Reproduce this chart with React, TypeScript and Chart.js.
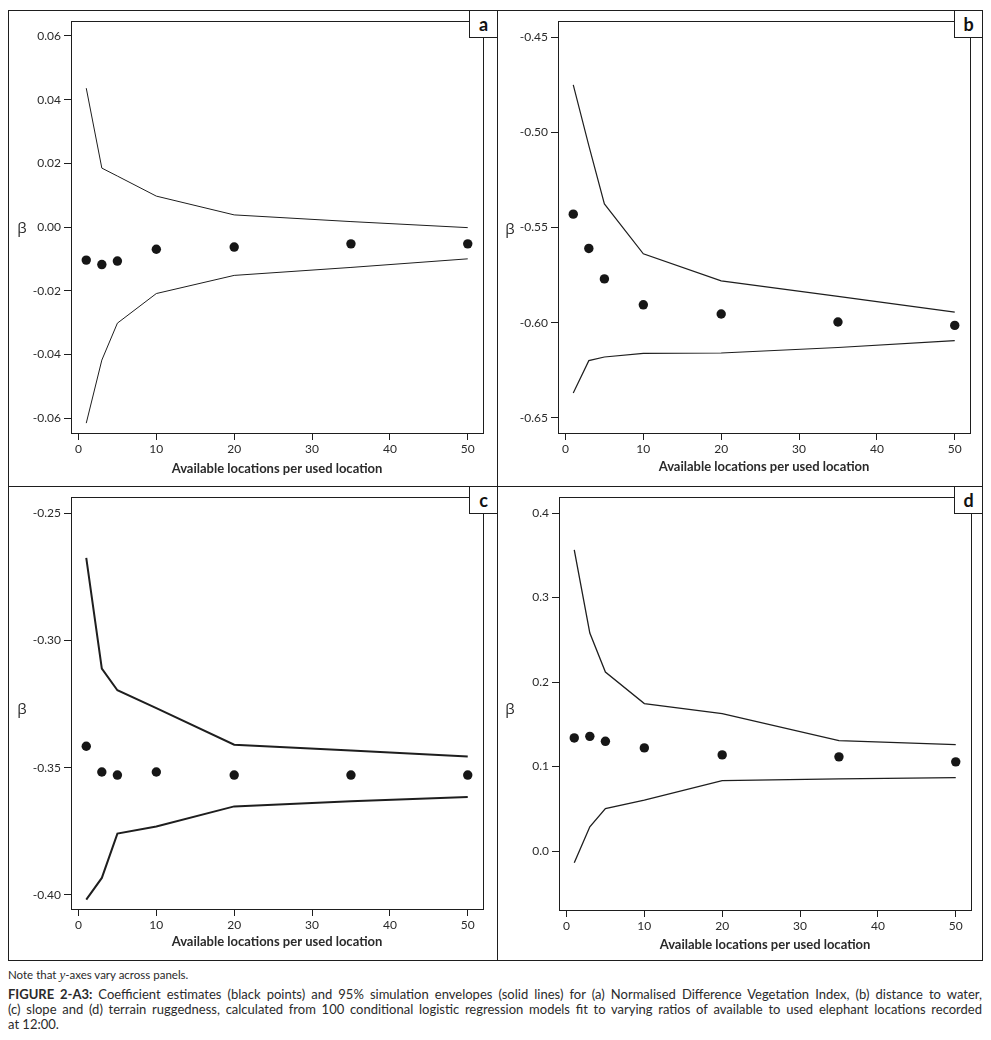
import React, { useEffect, useRef } from "react";
import { Chart, registerables } from "chart.js";
Chart.register(...registerables);

// ---- data ----
const ratios = [1, 3, 5, 10, 20, 35, 50];
const xTicks = [0, 10, 20, 30, 40, 50];

const estA = [-0.0104, -0.0118, -0.0107, -0.007, -0.0063, -0.0053, -0.0053];
const upperA = [0.0436, 0.0185, 0.016, 0.0097, 0.0038, 0.0017, -0.0002];
const lowerA = [-0.0616, -0.0418, -0.0302, -0.0209, -0.0152, -0.0127, -0.01];
const yTicksA = [-0.06, -0.04, -0.02, 0.0, 0.02, 0.04, 0.06];

const estB = [-0.543, -0.561, -0.577, -0.5906, -0.5954, -0.5996, -0.6014];
const upperB = [-0.4751, -0.507, -0.5376, -0.5638, -0.578, -0.5862, -0.5944];
const lowerB = [-0.6369, -0.6199, -0.618, -0.6161, -0.6159, -0.613, -0.6094];
const yTicksB = [-0.65, -0.6, -0.55, -0.5, -0.45];

const estC = [-0.3416, -0.3517, -0.3529, -0.3517, -0.3529, -0.3529, -0.3529];
const upperC = [-0.2676, -0.3111, -0.3196, -0.3266, -0.341, -0.3433, -0.3456];
const lowerC = [-0.4018, -0.3933, -0.3759, -0.3731, -0.3652, -0.3632, -0.3615];
const yTicksC = [-0.4, -0.35, -0.3, -0.25];

const estD = [0.1339, 0.1358, 0.1299, 0.1221, 0.1138, 0.1115, 0.1056];
const upperD = [0.3565, 0.258, 0.2119, 0.1745, 0.1626, 0.1307, 0.126];
const lowerD = [-0.0139, 0.0287, 0.0504, 0.0602, 0.0835, 0.0855, 0.087];
const yTicksD = [0.0, 0.1, 0.2, 0.3, 0.4];

const xTitle = "Available locations per used location";
const yLabel = "β";
const noteText = ["Note that ", "y", "-axes vary across panels."];
const captionLines = [
  "Coefficient estimates (black points) and 95% simulation envelopes (solid lines) for (a) Normalised Difference Vegetation Index, (b) distance to water,",
  "(c) slope and (d) terrain ruggedness, calculated from 100 conditional logistic regression models fit to varying ratios of available to used elephant locations recorded",
  "at 12:00.",
];
const captionLead = "FIGURE 2-A3:";

// ---- layout / styling ----
const INK = "#1e1e1e";
const TEXT = "#2a2a2a";

const panels = [
  { key: "a", est: estA, upper: upperA, lower: lowerA, yTicks: yTicksA, yMin: -0.0647, yMax: 0.0647, dec: 2,
    left: 8, top: 10, w: 489, h: 476, axisW: 63, padRight: 14, padTop: 11, axisH: 53, titlePad: 9, lineW: 1, betaX: 22, betaY: 227 },
  { key: "b", est: estB, upper: upperB, lower: lowerB, yTicks: yTicksB, yMin: -0.6579, yMax: -0.4416, dec: 2,
    left: 497, top: 10, w: 485, h: 476, axisW: 61, padRight: 12, padTop: 11, axisH: 53, titlePad: 11, lineW: 1.2, betaX: 510, betaY: 228 },
  { key: "c", est: estC, upper: upperC, lower: lowerC, yTicks: yTicksC, yMin: -0.4055, yMax: -0.2437, dec: 2,
    left: 8, top: 486, w: 489, h: 474, axisW: 63, padRight: 14, padTop: 11, axisH: 51, titlePad: 10, lineW: 2, betaX: 22, betaY: 708 },
  { key: "d", est: estD, upper: upperD, lower: lowerD, yTicks: yTicksD, yMin: -0.0697, yMax: 0.419, dec: 1,
    left: 497, top: 486, w: 485, h: 474, axisW: 62, padRight: 11, padTop: 11, axisH: 50, titlePad: 7, lineW: 1.3, betaX: 510, betaY: 708 },
];

const framePlugin = {
  id: "frame",
  afterDraw(chart: any) {
    const { ctx, chartArea } = chart;
    const l = Math.round(chartArea.left) + 0.5;
    const t = Math.round(chartArea.top) + 0.5;
    const r = Math.round(chartArea.right) + 0.5;
    const b = Math.round(chartArea.bottom) + 0.5;
    ctx.save();
    ctx.strokeStyle = INK;
    ctx.lineWidth = 1;
    ctx.strokeRect(l, t, r - l, b - t);
    ctx.restore();
  },
};

function Panel({ p }: { p: any }) {
  const ref = useRef<HTMLCanvasElement | null>(null);
  useEffect(() => {
    const toPts = (arr: number[]) => ratios.map((x, i) => ({ x, y: arr[i] }));
    const chart = new Chart(ref.current as HTMLCanvasElement, {
      type: "scatter",
      data: {
        datasets: [
          { data: toPts(p.upper), showLine: true, borderColor: INK, borderWidth: p.lineW, pointRadius: 0, fill: false, tension: 0 },
          { data: toPts(p.lower), showLine: true, borderColor: INK, borderWidth: p.lineW, pointRadius: 0, fill: false, tension: 0 },
          { data: toPts(p.est), showLine: false, pointRadius: 4.7, pointBackgroundColor: "#161616", pointBorderWidth: 0, borderColor: "#161616" },
        ],
      },
      options: {
        responsive: false,
        animation: false,
        devicePixelRatio: 1,
        layout: { padding: { left: 0, right: p.padRight, top: p.padTop, bottom: 0 } },
        plugins: { legend: { display: false }, tooltip: { enabled: false } },
        scales: {
          x: {
            type: "linear",
            min: -0.96,
            max: 51.96,
            afterBuildTicks: (scale: any) => {
              scale.ticks = xTicks.map((v) => ({ value: v }));
            },
            afterFit: (scale: any) => {
              scale.height = p.axisH;
            },
            grid: { display: true, drawOnChartArea: false, drawTicks: true, tickLength: 7, color: INK, lineWidth: 1 },
            border: { display: false },
            ticks: { color: TEXT, padding: 2, font: { family: "Lato", size: 12 }, maxRotation: 0, callback: (v: any) => String(v) },
            title: { display: true, text: xTitle, color: TEXT, font: { family: "Lato", size: 13, weight: "bold" }, padding: { top: 0, bottom: p.titlePad } },
          },
          y: {
            type: "linear",
            min: p.yMin,
            max: p.yMax,
            afterBuildTicks: (scale: any) => {
              scale.ticks = p.yTicks.map((v: number) => ({ value: v }));
            },
            afterFit: (scale: any) => {
              scale.width = p.axisW;
            },
            grid: { display: true, drawOnChartArea: false, drawTicks: true, tickLength: 7, color: INK, lineWidth: 1 },
            border: { display: false },
            ticks: { color: TEXT, padding: 3, font: { family: "Lato", size: 12 }, callback: (v: any) => Number(v).toFixed(p.dec) },
          },
        },
      },
      plugins: [framePlugin],
    } as any);
    return () => chart.destroy();
  }, []);
  return (
    <canvas
      ref={ref}
      width={p.w}
      height={p.h}
      style={{ position: "absolute", left: p.left, top: p.top, width: p.w, height: p.h }}
    />
  );
}

export default function App() {
  return (
    <div style={{ position: "absolute", left: 0, top: 0, width: 991, height: 1040, background: "#fff", fontFamily: "Lato, sans-serif", color: TEXT }}>
      {panels.map((p) => (
        <Panel key={p.key} p={p} />
      ))}
      {panels.map((p) => (
        <div
          key={"border-" + p.key}
          style={{ position: "absolute", left: p.left, top: p.top, width: p.w + 1, height: p.h + 1, border: `1px solid ${INK}`, boxSizing: "border-box", pointerEvents: "none" }}
        />
      ))}
      {panels.map((p) => (
        <div
          key={"tag-" + p.key}
          style={{
            position: "absolute",
            left: p.left + p.w - 28,
            top: p.top,
            width: 29,
            height: 28,
            border: `1px solid ${INK}`,
            boxSizing: "border-box",
            background: "#fff",
            display: "flex",
            alignItems: "center",
            justifyContent: "center",
            fontFamily: "Lato, sans-serif",
            fontWeight: 700,
            fontSize: 18,
            lineHeight: "18px",
            color: "#111",
          }}
        >
          {p.key}
        </div>
      ))}
      {panels.map((p) => (
        <div
          key={"beta-" + p.key}
          style={{ position: "absolute", left: p.betaX, top: p.betaY, transform: "translate(-50%, -50%)", fontFamily: "'Open Sans', sans-serif", fontSize: 15, lineHeight: "15px", color: TEXT }}
        >
          {yLabel}
        </div>
      ))}
      <div style={{ position: "absolute", left: 8, top: 968, fontSize: 11.5, lineHeight: "14px", whiteSpace: "nowrap" }}>
        {noteText[0]}
        <i style={{ fontFamily: "'Liberation Serif', serif", fontSize: 13 }}>{noteText[1]}</i>
        {noteText[2]}
      </div>
      <div style={{ position: "absolute", left: 8, top: 987, width: 974, fontSize: 13, lineHeight: "15px" }}>
        {captionLines.map((line, i) => (
          <div key={i} style={{ whiteSpace: "nowrap", textAlign: i < 2 ? "justify" : "left", textAlignLast: i < 2 ? "justify" : "left" } as any}>
            {i === 0 ? <span style={{ fontWeight: 700 }}>{captionLead} </span> : null}
            {line}
          </div>
        ))}
      </div>
    </div>
  );
}
